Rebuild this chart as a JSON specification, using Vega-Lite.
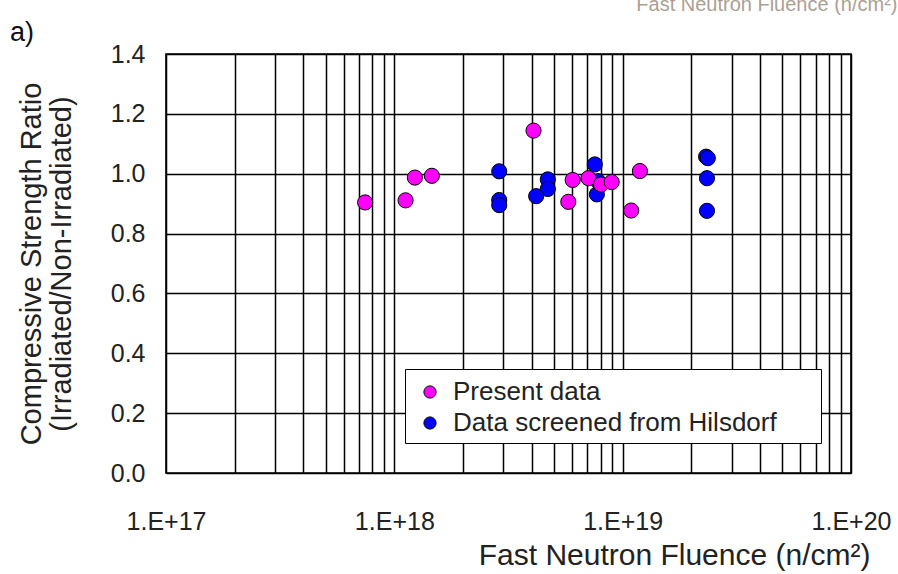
{
  "$schema": "https://vega.github.io/schema/vega-lite/v6.json",
  "width": 685,
  "height": 419,
  "autosize": {"type": "none"},
  "padding": {"left": 166, "top": 54, "right": 47, "bottom": 101},
  "background": "white",
  "config": {
    "font": "Liberation Sans",
    "view": {"stroke": "black", "strokeWidth": 1.6}
  },
  "title": {
    "text": "a)",
    "anchor": "start",
    "frame": "group",
    "dx": -156,
    "dy": 53,
    "offset": 0,
    "fontSize": 27,
    "fontWeight": "normal",
    "color": "#111111"
  },
  "data": {
    "values": [
      {"fluence": 2.88e18, "ratio": 1.008, "source": "Data screened from Hilsdorf"},
      {"fluence": 2.88e18, "ratio": 0.912, "source": "Data screened from Hilsdorf"},
      {"fluence": 2.88e18, "ratio": 0.895, "source": "Data screened from Hilsdorf"},
      {"fluence": 4.70e18, "ratio": 0.981, "source": "Data screened from Hilsdorf"},
      {"fluence": 4.70e18, "ratio": 0.949, "source": "Data screened from Hilsdorf"},
      {"fluence": 4.18e18, "ratio": 0.925, "source": "Data screened from Hilsdorf"},
      {"fluence": 7.55e18, "ratio": 1.031, "source": "Data screened from Hilsdorf"},
      {"fluence": 7.71e18, "ratio": 0.931, "source": "Data screened from Hilsdorf"},
      {"fluence": 7.80e18, "ratio": 0.975, "source": "Data screened from Hilsdorf"},
      {"fluence": 2.32e19, "ratio": 1.057, "source": "Data screened from Hilsdorf"},
      {"fluence": 2.36e19, "ratio": 1.052, "source": "Data screened from Hilsdorf"},
      {"fluence": 2.34e19, "ratio": 0.985, "source": "Data screened from Hilsdorf"},
      {"fluence": 2.34e19, "ratio": 0.876, "source": "Data screened from Hilsdorf"},
      {"fluence": 7.45e17, "ratio": 0.904, "source": "Present data"},
      {"fluence": 1.12e18, "ratio": 0.911, "source": "Present data"},
      {"fluence": 1.23e18, "ratio": 0.987, "source": "Present data"},
      {"fluence": 1.46e18, "ratio": 0.993, "source": "Present data"},
      {"fluence": 4.07e18, "ratio": 1.144, "source": "Present data"},
      {"fluence": 6.04e18, "ratio": 0.979, "source": "Present data"},
      {"fluence": 5.78e18, "ratio": 0.906, "source": "Present data"},
      {"fluence": 7.08e18, "ratio": 0.985, "source": "Present data"},
      {"fluence": 8.04e18, "ratio": 0.964, "source": "Present data"},
      {"fluence": 8.95e18, "ratio": 0.972, "source": "Present data"},
      {"fluence": 1.19e19, "ratio": 1.009, "source": "Present data"},
      {"fluence": 1.09e19, "ratio": 0.877, "source": "Present data"}
    ]
  },
  "resolve": {"axis": {"x": "independent"}},
  "layer": [
    {
      "mark": {"type": "point", "filled": true, "opacity": 0, "size": 10},
      "encoding": {
        "x": {
          "field": "fluence",
          "type": "quantitative",
          "scale": {"type": "log", "domain": [1e17, 1e20], "nice": false},
          "axis": {
            "orient": "top",
            "domain": false,
            "ticks": false,
            "labels": false,
            "grid": false,
            "title": "Fast Neutron Fluence (n/cm²)",
            "titleFontSize": 20,
            "titleFontWeight": "normal",
            "titleColor": "#ab9f94",
            "titleAnchor": "end",
            "titleAlign": "right",
            "titleBaseline": "alphabetic",
            "titleX": 731,
            "titleY": -44
          }
        },
        "y": {
          "field": "ratio",
          "type": "quantitative",
          "scale": {"domain": [0, 1.4], "nice": false},
          "axis": {
            "values": [0, 0.2, 0.4, 0.6, 0.8, 1.0, 1.2, 1.4],
            "format": ".1f",
            "grid": true,
            "gridColor": "black",
            "gridWidth": 1.5,
            "gridOpacity": 1,
            "ticks": false,
            "domain": false,
            "labelFontSize": 25,
            "labelColor": "#222222",
            "labelPadding": 21,
            "title": ["Compressive Strength Ratio", "(Irradiated/Non-Irradiated)"],
            "titleFontSize": 29,
            "titleFontWeight": "normal",
            "titleColor": "#222222",
            "titleLineHeight": 30,
            "titleX": -120,
            "titleY": 209.5
          }
        }
      }
    },
    {
      "mark": {"type": "point", "filled": true, "opacity": 1, "size": 230, "stroke": "black", "strokeWidth": 1},
      "encoding": {
        "x": {
          "field": "fluence",
          "type": "quantitative",
          "scale": {"type": "log", "domain": [1e17, 1e20], "nice": false},
          "axis": {
            "orient": "bottom",
            "values": [1e17, 2e17, 3e17, 4e17, 5e17, 6e17, 7e17, 8e17, 9e17, 1e18, 2e18, 3e18, 4e18, 5e18, 6e18, 7e18, 8e18, 9e18, 1e19, 2e19, 3e19, 4e19, 5e19, 6e19, 7e19, 8e19, 9e19, 1e20],
            "labelExpr": "datum.value == 1e17 ? '1.E+17' : datum.value == 1e18 ? '1.E+18' : datum.value == 1e19 ? '1.E+19' : datum.value == 1e20 ? '1.E+20' : ''",
            "grid": true,
            "gridColor": "black",
            "gridWidth": 1.5,
            "gridOpacity": 1,
            "ticks": false,
            "domain": false,
            "labelFontSize": 25,
            "labelColor": "#222222",
            "labelPadding": 36,
            "labelOverlap": false,
            "labelBound": false,
            "labelFlush": false,
            "title": "Fast Neutron Fluence (n/cm²)",
            "titleFontSize": 30,
            "titleFontWeight": "normal",
            "titleColor": "#222222",
            "titleAnchor": "end",
            "titleAlign": "right",
            "titleBaseline": "alphabetic",
            "titleX": 704,
            "titleY": 91
          }
        },
        "y": {
          "field": "ratio",
          "type": "quantitative",
          "scale": {"domain": [0, 1.4], "nice": false},
          "axis": {
            "values": [0, 0.2, 0.4, 0.6, 0.8, 1.0, 1.2, 1.4],
            "format": ".1f",
            "grid": true,
            "gridColor": "black",
            "gridWidth": 1.5,
            "gridOpacity": 1,
            "ticks": false,
            "domain": false,
            "labelFontSize": 25,
            "labelColor": "#222222",
            "labelPadding": 21,
            "title": ["Compressive Strength Ratio", "(Irradiated/Non-Irradiated)"],
            "titleFontSize": 29,
            "titleFontWeight": "normal",
            "titleColor": "#222222",
            "titleLineHeight": 30,
            "titleX": -120,
            "titleY": 209.5
          }
        },
        "color": {
          "field": "source",
          "type": "nominal",
          "scale": {"domain": ["Present data", "Data screened from Hilsdorf"], "range": ["#ff00ff", "#0000ff"]},
          "legend": {
            "orient": "none",
            "legendX": 239,
            "legendY": 315,
            "title": "——————————————————————————————————————————————————————————————————————————————————————————————————————————————————————————————————————",
            "titleFontSize": 3,
            "titleFontWeight": "normal",
            "titleLimit": 2000,
            "titlePadding": 0,
            "titleOpacity": 0,
            "strokeColor": "black",
            "fillColor": "white",
            "padding": 7,
            "symbolType": "circle",
            "symbolSize": 150,
            "symbolStrokeColor": "black",
            "symbolStrokeWidth": 1,
            "symbolOffset": 5,
            "labelOffset": 10,
            "labelFontSize": 26,
            "labelColor": "#222222",
            "labelLimit": 0,
            "rowPadding": 5
          }
        }
      }
    }
  ]
}
